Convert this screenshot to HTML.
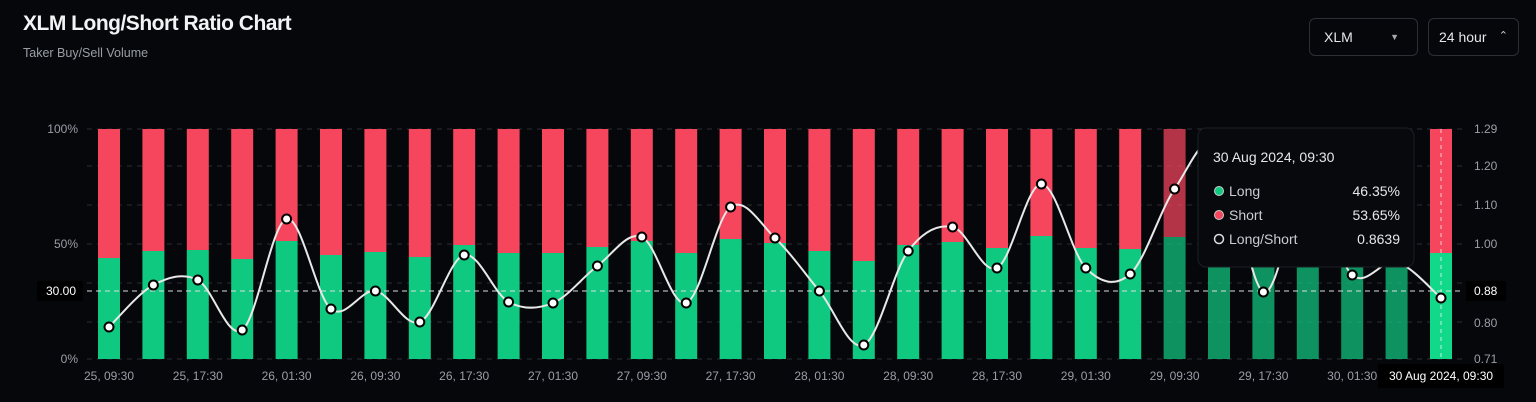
<!DOCTYPE html>
<html><head><meta charset="utf-8"><style>
body{margin:0;width:1536px;height:402px;background:#05070b;overflow:hidden;font-family:"Liberation Sans",sans-serif;position:relative}
.t{position:absolute;left:23px;top:12px;color:#f2f3f5;font-size:21px;font-weight:bold;letter-spacing:-0.5px}
.s{position:absolute;left:23px;top:46px;color:#9a9ea6;font-size:12.5px}
.sel{position:absolute;top:18px;height:38px;border:1px solid #2c2f36;border-radius:6px;color:#e6e7ea;font-size:14px;box-sizing:border-box;line-height:36px}
</style></head><body>
<div class="t">XLM Long/Short Ratio Chart</div>
<div class="s">Taker Buy/Sell Volume</div>
<div class="sel" style="left:1309px;width:109px;padding-left:14px">XLM<span style="position:absolute;right:18px;top:0;font-size:9px;color:#aaa">▼</span></div>
<div class="sel" style="left:1428px;width:91px;padding-left:10px">24 hour<span style="position:absolute;right:10px;top:-1px;font-size:11px;color:#ccc">⌃</span></div>
<svg id="c" width="1536" height="402" style="position:absolute;left:0;top:0" xmlns="http://www.w3.org/2000/svg"></svg>
<script>
var g=[258,251,250,259,241,255,252,257,245,253,253,247,241,253,239,243,251,261,245,242,248,236,248,249,237,250,252,251,250,252,253];
var l=[327,285,280,330,219,309,291,322,255,302,303,266,237,303,207,238,291,345,251,227,268,184,268,274,189,145,292,185,275,262,298];
var N=31,s='';
[129,166,205,244,283,322,359].forEach(function(y){s+='<line x1="87" x2="1462" y1="'+y+'" y2="'+y+'" stroke="#2a2d33" stroke-dasharray="5,5"/>';});
var X=function(i){return 109+i*44.4;};
for(var i=0;i<N;i++){var x=X(i)-11,op=(i>=24&&i<=29)?0.72:1;
s+='<rect x="'+x+'" y="129" width="22" height="'+(g[i]-129)+'" fill="#f6465d" opacity="'+op+'"/>';
s+='<rect x="'+x+'" y="'+g[i]+'" width="22" height="'+(359-g[i])+'" fill="'+(i==N-1?'#12d98a':'#10c981')+'" opacity="'+op+'"/>';}
s+='<line x1="1441" x2="1441" y1="129" y2="359" stroke="#fff" stroke-dasharray="4,4" opacity="0.7"/>';
s+='<line x1="87" x2="1462" y1="291" y2="291" stroke="#ddd" stroke-dasharray="5,4"/>';
var p='M'+X(0)+','+l[0];
for(var i=0;i<N-1;i++){var a=Math.max(i-1,0),b=Math.min(i+2,N-1);
p+=' C'+(X(i)+(X(i+1)-X(a))/6)+','+(l[i]+(l[i+1]-l[a])/6)+' '+(X(i+1)-(X(b)-X(i))/6)+','+(l[i+1]-(l[b]-l[i])/6)+' '+X(i+1)+','+l[i+1];}
s+='<path d="'+p+'" fill="none" stroke="#e8e8e8" stroke-width="2"/>';
for(var i=0;i<N;i++)s+='<circle cx="'+X(i)+'" cy="'+l[i]+'" r="4.5" fill="#fff" stroke="#000" stroke-width="2"/>';
var T=function(x,y,t,a,c,sz){return '<text x="'+x+'" y="'+y+'" text-anchor="'+a+'" fill="'+(c||'#9a9ea6')+'" font-size="'+(sz||12)+'" font-family="Liberation Sans,sans-serif">'+t+'</text>';};
s+=T(78,133,'100%','end')+T(78,248,'50%','end')+T(78,363,'0%','end');
s+='<rect x="37" y="281" width="46" height="20" rx="2" fill="#000"/>'+T(76,295,'30.00','end','#fff');
[['1.29',133],['1.20',170],['1.10',209],['1.00',248],['0.80',327],['0.71',363]].forEach(function(a){s+=T(1474,a[1],a[0],'start');});
s+='<rect x="1466" y="281" width="40" height="20" rx="2" fill="#000"/>'+T(1474,295,'0.88','start','#fff');
var lb=['25, 09:30','25, 17:30','26, 01:30','26, 09:30','26, 17:30','27, 01:30','27, 09:30','27, 17:30','28, 01:30','28, 09:30','28, 17:30','29, 01:30','29, 09:30','29, 17:30','30, 01:30'];
lb.forEach(function(t,k){s+=T(X(2*k),380,t,'middle');});
s+='<rect x="1378" y="364" width="126" height="24" rx="2" fill="#000"/>'+T(1441,380,'30 Aug 2024, 09:30','middle','#fff');
s+='<rect x="1198" y="128" width="216" height="139" rx="8" fill="#07090d" stroke="#1c1f25"/>';
s+=T(1213,162,'30 Aug 2024, 09:30','start','#e6e7ea',14);
s+='<circle cx="1219" cy="191" r="4.5" fill="#10c981" stroke="#ccc"/><circle cx="1219" cy="215" r="4.5" fill="#f6465d" stroke="#ccc"/><circle cx="1219" cy="239" r="4.5" fill="none" stroke="#ddd" stroke-width="1.5"/>';
s+=T(1229,196,'Long','start','#c9ccd1',14)+T(1229,220,'Short','start','#c9ccd1',14)+T(1229,244,'Long/Short','start','#c9ccd1',14);
s+=T(1400,196,'46.35%','end','#e6e7ea',14)+T(1400,220,'53.65%','end','#e6e7ea',14)+T(1400,244,'0.8639','end','#e6e7ea',14);
document.getElementById('c').innerHTML=s;
</script>
</body></html>
